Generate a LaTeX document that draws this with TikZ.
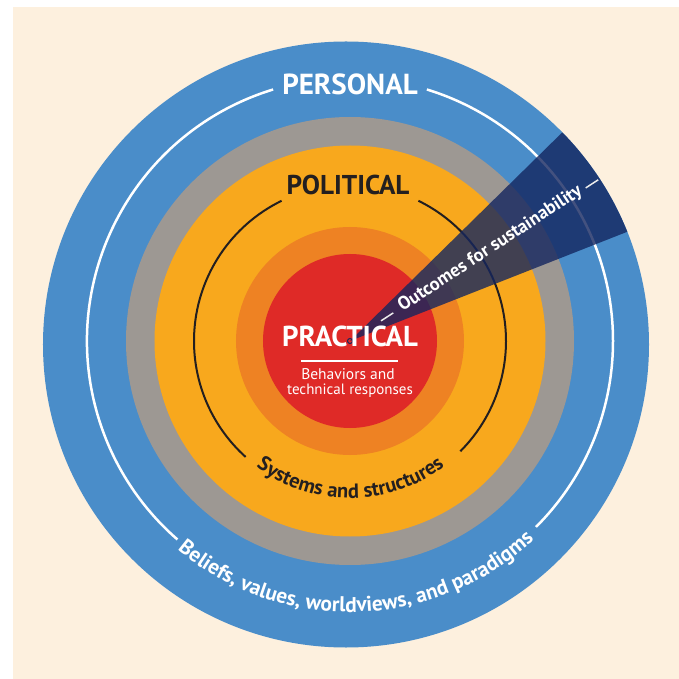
\documentclass[tikz,border=0pt]{standalone}
\usepackage{fontspec}
\setmainfont{PT Sans}
\usetikzlibrary{decorations.text}
\definecolor{cream}{RGB}{253,240,222}
\definecolor{ringblue}{RGB}{74,141,201}
\definecolor{ringgray}{RGB}{157,152,147}
\definecolor{ringyellow}{RGB}{248,168,29}
\definecolor{ringorange}{RGB}{238,130,35}
\definecolor{ringred}{RGB}{223,42,39}
\definecolor{navy}{RGB}{20,38,95}
\definecolor{ink}{RGB}{35,31,32}
\newcommand\ringsize[1]{\fontsize{#1}{#1}\selectfont}

\begin{document}
\begin{tikzpicture}[x=1pt,y=1pt,
  head/.style={font=\ringsize{#1}\bfseries,inner sep=0pt,anchor=base},
  plain/.style={font=\ringsize{#1},inner sep=0pt,anchor=base,white}]
\useasboundingbox(-350,-338)rectangle(329,341);
\fill[cream](-337,-338)rectangle(329,334);
\fill[ringblue](-4,-3.5)circle(303);
\fill[ringgray](0,0)circle(224);
\fill[ringyellow](0,0)circle(195.5);
\fill[ringorange](0,0)circle(114);
\fill[ringred](0,0)circle(87);
\draw[white,line width=2.5](107:263)arc(107:229:263)(-45:263)arc(-45:73:263);
\draw[ink,line width=2](116:156)arc(116:228:156)(-45:156)arc(-45:64:156);
\begin{scope}
\clip(-4,-3.5)circle(303);
\fill[navy,opacity=.8](0,0)--(21.5:330)arc(21.5:44.5:330)--cycle;
\end{scope}
\draw[navy,line width=1](0,0)circle(2.5);
\node[head=29,white](personal)at(0,246.6){PERSONAL};
\node[head=27.2,ink](political)at(-2,146){POLITICAL};
\node[head=28.8,white](practical)at(0,-5.7){PRACTICAL};
\draw[white,line width=2](-49,-20)--(48,-20);
\node[plain=15.5](behaviors)at(-2,-38.3){Behaviors and};
\node[plain=15](technical)at(0,-54){technical responses};
\draw[white!85!gray,line width=1.5](33:37)--(33:51.6)(33:281)--(33:296);
\node[font=\ringsize{18.5}\bfseries,white,rotate=33.2,inner sep=0pt](outcomes)
  at(140.3,92){Outcomes for sustainability};
\path[decoration={text along path,text align=center,text color=ink,
  text={|\ringsize{20.5}\bfseries|Systems and structures}},decorate]
  (233.4:157)arc(233.4:307:157);
\path[decoration={text along path,text align=center,text color=white,
  text={|\ringsize{21.3}\bfseries|Beliefs, values, worldviews, and paradigms}},decorate]
  (231:271)arc(231:312.2:271);
\end{tikzpicture}
\end{document}
